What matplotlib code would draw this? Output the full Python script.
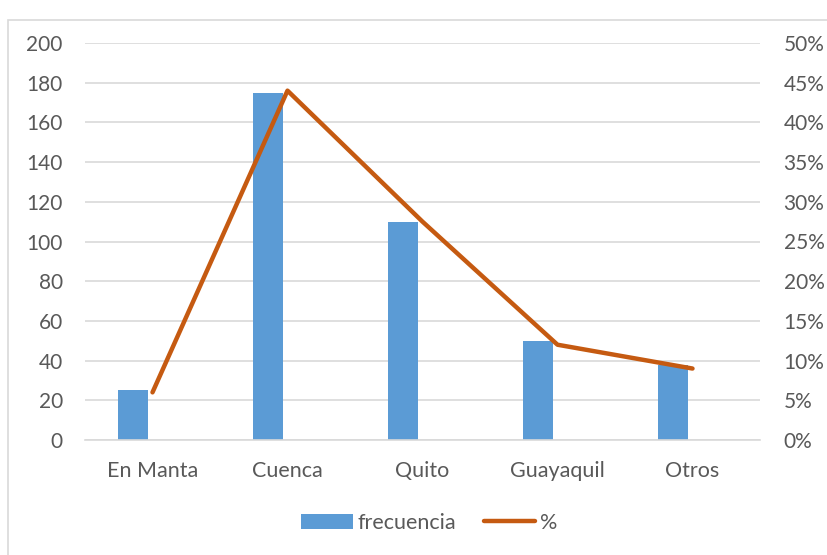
import matplotlib
matplotlib.use("Agg")
import matplotlib.pyplot as plt
from matplotlib.patches import Rectangle, Patch
from matplotlib.lines import Line2D
from matplotlib.ticker import FuncFormatter, MultipleLocator

categories = ["En Manta", "Cuenca", "Quito", "Guayaquil", "Otros"]
frecuencia = [25, 175, 110, 50, 38]
porcentaje = [0.06, 0.44, 0.275, 0.12, 0.09]

bar_color = "#5B9BD5"
line_color = "#C55A11"
text_color = "#595959"
grid_color = "#D9D9D9"

plt.rcParams["font.family"] = ["Lato", "DejaVu Sans"]

fig = plt.figure(figsize=(8.28, 5.55), dpi=100)
fig.patches.append(Rectangle((8 / 828, -0.1), 1.2, 1 - 20 / 555 + 0.1,
                             transform=fig.transFigure, fill=False,
                             edgecolor=grid_color, linewidth=1.2))

ax = fig.add_axes([85 / 828, 1 - 440 / 555, 675 / 828, 397 / 555])
x = list(range(len(categories)))
bar_w = 0.222
bar_shift = -0.144
ax.bar([i + bar_shift for i in x], frecuencia, width=bar_w, color=bar_color,
       zorder=2)
ax.set_xlim(-0.5, len(categories) - 0.5)
ax.set_ylim(0, 200)
ax.yaxis.set_major_locator(MultipleLocator(20))
ax.grid(axis="y", color=grid_color, linewidth=1.2, zorder=0)
ax.set_axisbelow(True)
for side in ["top", "right", "left"]:
    ax.spines[side].set_visible(False)
ax.spines["bottom"].set_color(grid_color)
ax.spines["bottom"].set_linewidth(1.2)
ax.set_xticks(x)
ax.set_xticklabels(categories)
ax.tick_params(axis="both", length=0, colors=text_color)
ax.tick_params(axis="x", labelsize=15.5, pad=15)
ax.tick_params(axis="y", labelsize=15, pad=16)

ax2 = ax.twinx()
ax2.plot(x, porcentaje, color=line_color, linewidth=3.2,
         solid_capstyle="round", solid_joinstyle="round", zorder=3)
ax2.set_ylim(0, 0.5)
ax2.yaxis.set_major_locator(MultipleLocator(0.05))
ax2.yaxis.set_major_formatter(FuncFormatter(lambda v, p: f"{v * 100:.0f}%"))
for side in ["top", "right", "left", "bottom"]:
    ax2.spines[side].set_visible(False)
ax2.tick_params(axis="y", length=0, labelsize=15, colors=text_color, pad=17)

handles = [Patch(facecolor=bar_color, edgecolor="none"),
           Line2D([], [], color=line_color, linewidth=3.2,
                  solid_capstyle="round")]
leg = fig.legend(handles, ["frecuencia", "%"], loc="center",
                 bbox_to_anchor=(429 / 828, 1 - 523 / 555), ncol=2,
                 frameon=False, fontsize=15.5, handlelength=2.4,
                 handleheight=0.7, handletextpad=0.2, columnspacing=1.3)
for t in leg.get_texts():
    t.set_color(text_color)

fig.savefig("out.png", dpi=100)
